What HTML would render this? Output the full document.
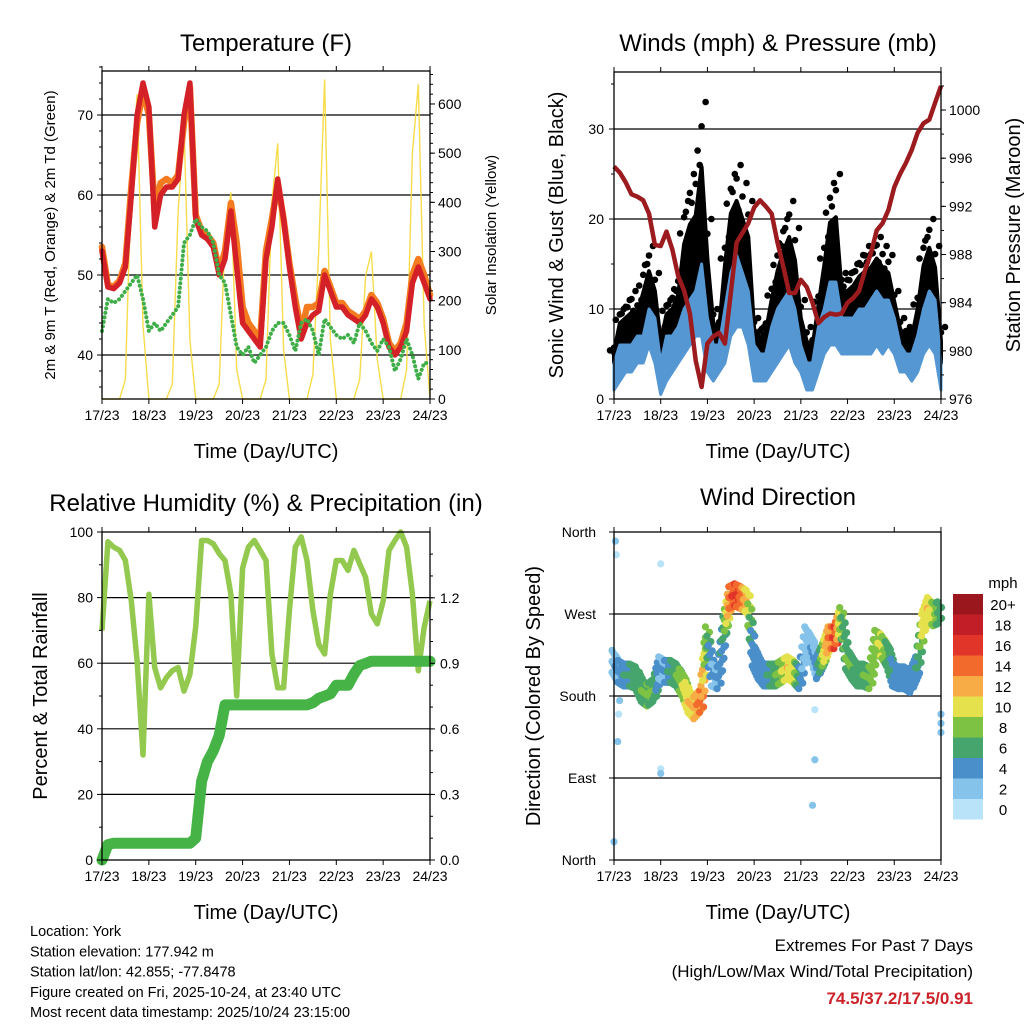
<!DOCTYPE html>
<html><head><meta charset="utf-8"><style>
body{margin:0;background:#fff;}
svg{display:block;font-family:"Liberation Sans",sans-serif;}
</style></head><body>
<svg id="c" width="1024" height="1024" viewBox="0 0 1024 1024">
<g id="grids"></g><g id="marks"></g><g id="axes"></g><g id="texts"></g>
</svg>
<script>
// ---------- DATA (3-hourly, 57 points from 17/23 to 24/23) ----------
const dayLabels = ["17/23","18/23","19/23","20/23","21/23","22/23","23/23","24/23"];
const temp2m = [53,48.5,48.3,49,51,60,70,74,71,56,60,61,61,62,70,74,57,55,54.5,53.5,50,52,58,51,44,43,42,41,52,56,62,57,51,46,42,44,45,45.5,50,48,46,46,45,44.5,44,45,47,46,44,41,40,41,43,49,51,49,47];
const temp9m = [53.5,48.8,48.5,49.3,51.5,61,69,73,70,58,61.5,62,61.5,62.5,69,73.5,57.5,55.5,55,54,50.5,53,59,54,46,44,43,42,53,57,61.5,57,51.5,47,43,46,46,46.5,50.5,48.5,46.5,46.5,45.5,45,44.5,45.5,47.5,46.5,44.5,41.5,40.5,41.5,44,50,52,50,47.5];
const dewpt = [43,47,46.5,47,48,49,50,47,43,44,43,44,45,46,54,55,57,56,55.5,54,50,49,45,41,40,41,39,40,41,43,44,44,42.5,40.5,44,44.5,43,40,44.5,43.5,42.5,42,42.5,41.5,44,43,41.5,40.5,42,41,38,39.5,42,40,37,39,39];
const solar = [0,0,0,0,40,450,620,150, 0,0,0,0,30,380,560,120, 0,0,0,0,30,330,420,60, 0,0,0,0,40,400,520,100, 0,0,0,0,50,300,650,120, 0,0,0,0,40,250,300,80, 0,0,0,0,60,500,640,150, 0];
const windLo = [1,2,3,3,4,4,6,4,0.5,2,3,4,5,6,7,7,3,2,3,4,7,8,8,6,2,2,2,3,4,5,6,4,3,1,1,3,5,6,6,5,5,5,5,5,5,6,5,6,5,3,3,2,3,5,6,5,1];
const windHi = [4,6,6,6,7,7,10,9,4,7,7,8,10,11,12,15,9,6,6,10,14,16,14,12,6,5,5,8,10,11,12,10,6,4,4,8,10,13,13,9,9,9,10,10,11,12,11,11,9,6,5,5,7,10,12,11,4];
const gustHi = [6,10,11,12,11,15,17,14,8,11,12,14,22,25,26,33,20,10,9,18,25,26,24,22,9,8,9,13,17,20,22,19,11,8,7,12,18,24,25,14,14,15,16,17,17,18,17,16,12,9,8,8,12,18,20,17,8];
const pressure = [995.3,994.8,994,993,992.8,992.5,991.4,988.8,988.7,989.9,988.4,986.2,985,983.1,979.2,977,980.6,981.2,981.5,980.6,984.8,989,989.8,990.6,991.9,992.5,992,991.4,989,987,984.8,984.8,985.9,985.3,984,982.3,982.8,983.1,983,983.1,984,984.4,985,986.7,988.1,990,990.6,991.7,993.6,994.7,995.6,996.7,998.1,998.9,999.2,1000.6,1002];
const rh = [70,97,95.4,94.4,91.3,79,60.7,32,81,58.7,52.5,55.6,57.7,58.7,51.5,56.6,71,97.4,97.4,96.4,93.4,91.3,81,50,89,95.4,97.4,94.4,91.3,62.8,52.5,52.5,76,95.4,98.5,91.3,76,65.8,62.8,81,91.3,91.3,88.3,94.4,90.3,86.2,75,72,79,94.4,97.4,100,95.4,81,57.7,71,79];
const precip = [0,0.07,0.077,0.077,0.077,0.077,0.077,0.077,0.077,0.077,0.077,0.077,0.077,0.077,0.077,0.077,0.1,0.36,0.45,0.5,0.57,0.71,0.71,0.71,0.71,0.71,0.71,0.71,0.71,0.71,0.71,0.71,0.71,0.71,0.71,0.71,0.72,0.74,0.75,0.76,0.8,0.8,0.8,0.85,0.89,0.9,0.91,0.91,0.91,0.91,0.91,0.91,0.91,0.91,0.91,0.91,0.91];
const windDir = [218,207,203,203,200,186,181,186,211,207,207,203,192,174,167,174,244,203,200,255,288,291,288,284,225,211,203,203,203,207,211,207,200,244,233,211,225,244,244,265,222,211,203,203,200,240,236,225,203,200,200,196,211,258,276,269,272];
const windSpd = [2,4,5,6,6,7,8,7,3,4,6,7,9,11,12,14,8,3,4,6,14,16,14,11,4,4,4,6,7,9,11,10,5,2,3,4,9,13,16,8,7,7,6,7,8,8,10,7,5,4,4,4,5,10,11,9,6];
const outDay = [0.0,0.03,0.05,0.08,0.1,0.12,1.0,1.0,1.0,4.25,4.3,4.3,7.0,7.0,7.0];
const outDir = [20,350,335,130,160,175,325,100,95,60,110,165,150,140,160];
const outSpd = [3,2,1,3,1,2,1,1,2,2,3,1,3,3,3];
const cbLabels = ["20+","18","16","14","12","10","8","6","4","2","0"];
const cbColors = ['#9a181d','#c21e28','#e2352a','#f26b2c','#f7ac45','#e5e14c','#7dc243','#46a56c','#4a8fca','#86c3ea','#b8e3f8'];

// ---------- SCALES ----------
const N = temp2m.length;
const dayOf = i => i*7/(N-1);
const xT = d => 102 + d*46.86;
const yT = v => 115 + (70-v)*8;
const ySol = v => 399 - v*0.4917;
const xW = d => 614 + d*46.71;
const yW = v => 399 - v*9;
const yP = p => 399 - (p-976)*12.04;
const yR = v => 860 - v*3.28;
const yPr = p => 860 - p*218.5;
const yD = g => 860 - g*328/360;
const spdColor = s => cbColors[10 - Math.min(10, Math.max(0, Math.floor(s/2)))];

const NS = "http://www.w3.org/2000/svg";
function mk(parent, tag, attrs, txt){
  const e = document.createElementNS(NS, tag);
  for (const k in attrs) e.setAttribute(k, attrs[k]);
  if (txt !== undefined) e.textContent = txt;
  document.getElementById(parent).appendChild(e);
  return e;
}
function pathOf(arr, xf, yf){
  return arr.map((v,i)=>(i?'L':'M')+xf(dayOf(i)).toFixed(1)+' '+yf(v).toFixed(1)).join(' ');
}
function bandOf(lo, hi, xf, yf){
  let d = hi.map((v,i)=>(i?'L':'M')+xf(dayOf(i)).toFixed(1)+' '+yf(v).toFixed(1)).join(' ');
  for (let i=lo.length-1;i>=0;i--) d += ' L'+xf(dayOf(i)).toFixed(1)+' '+yf(lo[i]).toFixed(1);
  return d+' Z';
}

// ---------- PANEL FRAMES / AXES ----------
function hgrid(x0,x1,y){ const l = mk('grids','line',{x1:x0,x2:x1,y1:y,y2:y,stroke:'#000','stroke-width':1.2});
    }
function frame(x0,y0,x1,y1,name){
  const r = mk('axes','rect',{x:x0,y:y0,width:x1-x0,height:y1-y0,fill:'none',stroke:'#000','stroke-width':1.3});
   
}
function tick(x1,y1,x2,y2){ const l = mk('axes','line',{x1,y1,x2,y2,stroke:'#000','stroke-width':1});
    }
function label(x,y,t,size,anchor,name,extra){
  const a = Object.assign({x,y,'font-size':size,'text-anchor':anchor||'middle',fill:'#000'}, extra||{});
  const e = mk('texts','text',a,t);
   
  return e;
}
function xAxis(xf,yb,yt,prefix){
  dayLabels.forEach((lab,d)=>{
    tick(xf(d),yb,xf(d),yb+5); tick(xf(d),yt,xf(d),yt-5);
    label(xf(d),yb+21,lab,14,'middle',prefix+'-x-tick-label');
  });
}

// Temperature panel
[40,50,60,70].forEach(v=>hgrid(102,430,yT(v)));
frame(102,71,430,399,'temperature-plot-area');
xAxis(xT,399,71,'temp');
[40,50,60,70].forEach(v=>{tick(97,yT(v),102,yT(v)); label(93,yT(v)+5,String(v),14,'end','temp-y-tick-label');});
for(let v=36;v<=76;v+=2) tick(99,yT(v),102,yT(v));
[0,100,200,300,400,500,600].forEach(v=>{tick(430,ySol(v),435,ySol(v)); label(438,ySol(v)+5,String(v),14,'start','solar-y-tick-label');});
for(let v=20;v<=660;v+=20) tick(430,ySol(v),433,ySol(v));

// Wind panel
[10,20,30].forEach(v=>hgrid(614,941,yW(v)));
frame(614,72,941,399,'winds-plot-area');
xAxis(xW,399,72,'wind');
[0,10,20,30].forEach(v=>{tick(609,yW(v),614,yW(v)); label(604,yW(v)+5,String(v),14,'end','wind-y-tick-label');});
for(let v=5;v<=35;v+=10) tick(611,yW(v),614,yW(v));
[976,980,984,988,992,996,1000].forEach(p=>{tick(941,yP(p),946,yP(p)); label(949,yP(p)+5,String(p),14,'start','pressure-y-tick-label');});
for(let p=978;p<=1002;p+=2) tick(941,yP(p),944,yP(p));

// RH panel
[20,40,60,80].forEach(v=>hgrid(102,430,yR(v)));
frame(102,532,430,860,'humidity-plot-area');
xAxis(xT,860,532,'rh');
[0,20,40,60,80,100].forEach(v=>{tick(97,yR(v),102,yR(v)); label(93,yR(v)+5,String(v),14,'end','rh-y-tick-label');});
for(let v=10;v<=90;v+=20) tick(99,yR(v),102,yR(v));
["0.0","0.3","0.6","0.9","1.2"].forEach(t=>{const p=parseFloat(t); tick(430,yPr(p),435,yPr(p)); label(440,yPr(p)+5,t,14,'start','precip-y-tick-label');});
for(let p=0.1;p<1.5;p+=0.1) tick(430,yPr(p),433,yPr(p));

// Direction panel
[90,180,270].forEach(g=>hgrid(614,941,yD(g)));
frame(614,532,941,860,'direction-plot-area');
xAxis(xW,860,532,'dir');
[["North",0],["East",90],["South",180],["West",270],["North",360]].forEach(([t,g])=>{tick(609,yD(g),614,yD(g)); label(596,yD(g)+5,t,14,'end','dir-y-tick-label');});

// ---------- MARKS ----------
let e = mk('marks','path',{d:pathOf(solar,xT,ySol),fill:'none',stroke:'#f6d838','stroke-width':1.4,opacity:0.9});
 
e = mk('marks','path',{d:pathOf(temp9m,xT,yT),fill:'none',stroke:'#f47b20','stroke-width':6.5,'stroke-linejoin':'round','stroke-linecap':'round'});
 
e = mk('marks','path',{d:pathOf(temp2m,xT,yT),fill:'none',stroke:'#d42027','stroke-width':5.5,'stroke-linejoin':'round','stroke-linecap':'round'});
 
e = mk('marks','path',{d:pathOf(dewpt,xT,yT),fill:'none',stroke:'#3fae49','stroke-width':4,'stroke-dasharray':'0.1 4.5','stroke-linecap':'round'});
 

// winds: dense gust cloud + sparse gust dots
const gustDense = gustHi.map((g,i)=>windHi[i]+0.6*(g-windHi[i]));
e = mk('marks','path',{d:bandOf(windHi,gustDense,xW,yW),fill:'#000',stroke:'#000','stroke-width':4,'stroke-linejoin':'round'});
 
gustHi.forEach((g,i)=>{
  [0.7,0.85,1.0].forEach((f,k)=>{
    const v = windHi[i]+f*(g-windHi[i]);
    const c = mk('marks','circle',{cx:(xW(dayOf(i))+(k-1)*4).toFixed(1),cy:yW(v).toFixed(1),r:3.3,fill:'#000'});
     
  });
});
e = mk('marks','path',{d:bandOf(windLo,windHi,xW,yW),fill:'#5597d2',stroke:'#5597d2','stroke-width':3,'stroke-linejoin':'round'});
 
e = mk('marks','path',{d:pathOf(pressure,xW,yP),fill:'none',stroke:'#9b1b1f','stroke-width':4.5,'stroke-linejoin':'round'});
 

// RH / precip
e = mk('marks','path',{d:pathOf(rh,xT,yR),fill:'none',stroke:'#92c94e','stroke-width':5.5,'stroke-linejoin':'round'});
 
e = mk('marks','path',{d:pathOf(precip,xT,yPr),fill:'none',stroke:'#45b346','stroke-width':11,'stroke-linejoin':'round','stroke-linecap':'round'});
 

// wind direction dots
const offs = [-12,-6,0,6,12];
for (let i=0;i<N-1;i++){
  for (let k=0;k<4;k++){
    const f = k/4;
    const d = dayOf(i)+f*(dayOf(i+1)-dayOf(i));
    const g = windDir[i]+f*(windDir[i+1]-windDir[i]);
    const s = windSpd[i]+f*(windSpd[i+1]-windSpd[i]);
    offs.forEach((o,j)=>{
      const c = mk('marks','circle',{cx:(xW(d)+(j%2?2:-2)).toFixed(1),cy:yD(g+o).toFixed(1),r:3.6,fill:spdColor(s+(j===2?1:0))});
       
    });
  }
}
outDay.forEach((d,i)=>{
  const c = mk('marks','circle',{cx:xW(d),cy:yD(outDir[i]),r:3.6,fill:spdColor(outSpd[i])});
   
});

// colorbar
cbColors.forEach((col,i)=>{
  const r = mk('marks','rect',{x:953,y:594+i*20.5,width:30,height:20.5,fill:col});
   
  label(1003,594+i*20.5+16,cbLabels[i],15,'middle','colorbar-label');
});
label(1003,588,"mph",15,'middle','colorbar-title');

// ---------- TEXT ----------
label(266,51,"Temperature (F)",24,'middle','temperature-title');
label(778,51,"Winds (mph) & Pressure (mb)",24,'middle','winds-title');
label(266,511,"Relative Humidity (%) & Precipitation (in)",24,'middle','humidity-title');
label(778,505,"Wind Direction",24,'middle','wind-direction-title');
label(266,458,"Time (Day/UTC)",20,'middle','temp-x-axis-title');
label(778,458,"Time (Day/UTC)",20,'middle','wind-x-axis-title');
label(266,919,"Time (Day/UTC)",20,'middle','rh-x-axis-title');
label(778,919,"Time (Day/UTC)",20,'middle','dir-x-axis-title');
label(0,0,"2m & 9m T (Red, Orange) & 2m Td (Green)",15,'middle','temp-y-axis-title',{transform:'translate(55,235) rotate(-90)'});
label(0,0,"Solar Insolation (Yellow)",15,'middle','solar-y-axis-title',{transform:'translate(496,235) rotate(-90)'});
label(0,0,"Sonic Wind & Gust (Blue, Black)",20,'middle','wind-y-axis-title',{transform:'translate(563,235) rotate(-90)'});
label(0,0,"Station Pressure (Maroon)",20,'middle','pressure-y-axis-title',{transform:'translate(1020,235) rotate(-90)'});
label(0,0,"Percent & Total Rainfall",20,'middle','rh-y-axis-title',{transform:'translate(47,696) rotate(-90)'});
label(0,0,"Direction (Colored By Speed)",20,'middle','dir-y-axis-title',{transform:'translate(540,696) rotate(-90)'});
["Location: York","Station elevation: 177.942 m","Station lat/lon: 42.855; -77.8478","Figure created on Fri, 2025-10-24, at 23:40 UTC","Most recent data timestamp: 2025/10/24 23:15:00"].forEach((t,i)=>{
  label(30,936+i*20.3,t,14.5,'start','station-info-line');
});
label(973,951,"Extremes For Past 7 Days",17,'end','extremes-title');
label(973,977,"(High/Low/Max Wind/Total Precipitation)",17,'end','extremes-subtitle');
label(973,1004,"74.5/37.2/17.5/0.91",17,'end','extremes-values',{fill:'#cc2229','font-weight':'bold'});
</script>
</body></html>
